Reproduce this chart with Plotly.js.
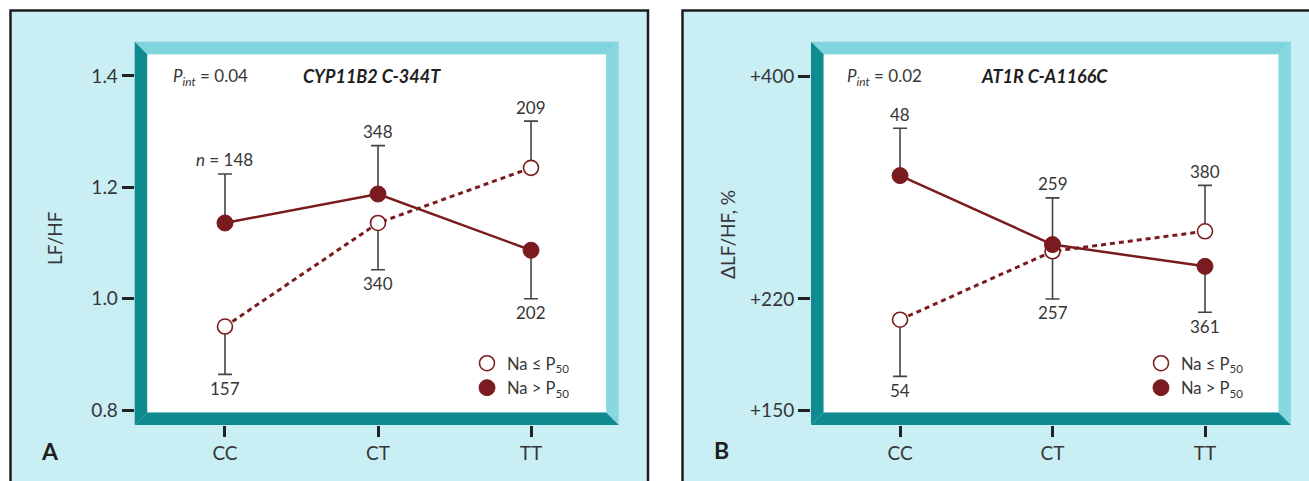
<!DOCTYPE html>
<html><head><meta charset="utf-8">
<script src="https://cdn.plot.ly/plotly-3.0.1.min.js"></script>
<style>html,body{margin:0;padding:0;background:#fff}#chart{width:1309px;height:481px}</style>
</head><body><div id="chart"></div>
<script>
// ---------- data ----------
const categories = ['CC', 'CT', 'TT'];
const seriesNames = ['Na ≤ P<sub>50</sub>', 'Na > P<sub>50</sub>'];

// Panel A: LF/HF, CYP11B2 C-344T
const aLowNa = [0.950, 1.136, 1.235];
const aLowNaBar = [0.864, 1.052, 1.319];
const aLowNaN = ['157', '340', '209'];
const aHighNa = [1.136, 1.188, 1.087];
const aHighNaBar = [1.224, 1.275, 1.000];
const aHighNaN = ['<i>n</i> = 148', '348', '202'];
const aTicks = [0.8, 1.0, 1.2, 1.4];
const aTickText = ['0.8', '1.0', '1.2', '1.4'];

// Panel B: ΔLF/HF %, AT1R C-A1166C (axis drawn on a square-root scale)
const bLowNa = [206, 254, 269];
const bLowNaBar = [170, 220, 305];
const bLowNaN = ['54', '257', '380'];
const bHighNa = [313, 259, 243];
const bHighNaBar = [353, 295, 211];
const bHighNaN = ['48', '259', '361'];
const bTicks = [150, 220, 400];
const bTickText = ['+150', '+220', '+400'];

// ---------- styling ----------
const W = 1309, H = 481;
const px = x => x / W, py = y => 1 - y / H;
const RED = '#7a1c1f', TXT = '#363636', FONT = 'Lato, "Open Sans", sans-serif';
const BG = '#c9eef4', DARK = '#0f8b8f', LIGHT = '#7fd4de', LIGHT2 = '#88d8e1';
const sq = v => Math.sqrt(v);

function errs(vals, bars, tf) {
  const plus = [], minus = [];
  vals.forEach((v, i) => {
    const d = tf(bars[i]) - tf(v);
    plus.push(d > 0 ? d : 0);
    minus.push(d < 0 ? -d : 0);
  });
  return {type: 'data', symmetric: false, array: plus, arrayminus: minus,
          color: '#444444', thickness: 1.6, width: 7};
}

function panelTraces(xa, ya, low, lowBar, high, highBar, tf, legend) {
  return [
    {x: categories, y: low.map(tf), xaxis: xa, yaxis: ya, mode: 'lines', showlegend: false,
     line: {color: RED, width: 3, dash: '5px,4px'}, hoverinfo: 'skip', cliponaxis: false},
    {x: categories, y: high.map(tf), xaxis: xa, yaxis: ya, mode: 'lines', showlegend: false,
     line: {color: RED, width: 2.5}, hoverinfo: 'skip', cliponaxis: false},
    {x: categories, y: low.map(tf), xaxis: xa, yaxis: ya, mode: 'markers', name: seriesNames[0],
     legend: legend, error_y: errs(low, lowBar, tf), cliponaxis: false,
     marker: {symbol: 'circle', size: 15, color: '#ffffff', line: {color: RED, width: 1.6}}},
    {x: categories, y: high.map(tf), xaxis: xa, yaxis: ya, mode: 'markers', name: seriesNames[1],
     legend: legend, error_y: errs(high, highBar, tf), cliponaxis: false,
     marker: {symbol: 'circle', size: 16, color: RED, line: {color: RED, width: 1}}}
  ];
}

const idA = v => v;
const traces = [
  ...panelTraces('x', 'y', aLowNa, aLowNaBar, aHighNa, aHighNaBar, idA, 'legend'),
  ...panelTraces('x2', 'y2', bLowNa, bLowNaBar, bHighNa, bHighNaBar, sq, 'legend2')
];

// frame geometry (pixels)
function frame(L, R, T, B, t) {
  const l = L + t, r = R - t, tt = T + t, b = B - t;
  const P = (pts) => 'M ' + pts.map(p => px(p[0]) + ',' + py(p[1])).join(' L ') + ' Z';
  const base = {type: 'path', xref: 'paper', yref: 'paper', layer: 'below', line: {width: 0}};
  return [
    {type: 'rect', xref: 'paper', yref: 'paper', layer: 'below', x0: px(l), x1: px(r), y0: py(b), y1: py(tt),
     fillcolor: '#ffffff', line: {width: 0}},
    Object.assign({}, base, {path: P([[L, T], [R, T], [r, tt], [l, tt]]), fillcolor: LIGHT}),
    Object.assign({}, base, {path: P([[R, T], [R, B], [r, b], [r, tt]]), fillcolor: LIGHT2}),
    Object.assign({}, base, {path: P([[L, T], [l, tt], [l, b], [L, B]]), fillcolor: DARK}),
    Object.assign({}, base, {path: P([[L, B], [R, B], [r, b], [l, b]]), fillcolor: DARK})
  ];
}

const shapes = [
  {type: 'rect', xref: 'paper', yref: 'paper', layer: 'below', x0: px(10.5), x1: px(648), y0: -0.05, y1: py(10.5),
   fillcolor: BG, line: {color: '#1c1c1c', width: 2.5}},
  {type: 'rect', xref: 'paper', yref: 'paper', layer: 'below', x0: px(682.5), x1: 1.05, y0: -0.05, y1: py(10.5),
   fillcolor: BG, line: {color: '#1c1c1c', width: 2.5}},
  ...frame(134.7, 618.7, 41.7, 425, 12.5),
  ...frame(811, 1291, 41.7, 425, 12.5)
];

// annotations
const ann = [];
function countLabels(xa, ya, vals, bars, labels, tf) {
  vals.forEach((v, i) => {
    const up = bars[i] > v;
    ann.push({x: categories[i], y: tf(bars[i]), xref: xa, yref: ya, text: labels[i], showarrow: false,
      xanchor: 'center', yanchor: 'middle',
      yshift: up ? 14 : -14, font: {family: FONT, size: 17, color: TXT}});
  });
}
countLabels('x', 'y', aLowNa, aLowNaBar, aLowNaN, idA);
countLabels('x', 'y', aHighNa, aHighNaBar, aHighNaN, idA);
countLabels('x2', 'y2', bLowNa, bLowNaBar, bLowNaN, sq);
countLabels('x2', 'y2', bHighNa, bHighNaBar, bHighNaN, sq);

const paperText = (x, y, text, size, opts) => Object.assign({x: px(x), y: py(y), xref: 'paper', yref: 'paper',
  xanchor: 'center', yanchor: 'middle',
  text: text, showarrow: false, font: {family: FONT, size: size, color: TXT}}, opts || {});

const geneFont = {family: FONT, size: 18, color: '#1e1e1e'};
const letterFont = {family: FONT, size: 23, color: '#1e1e1e'};
ann.push(
  paperText(171, 77, '<i>P</i><sub><i>int</i></sub> = 0.04', 17, {xanchor: 'left'}),
  paperText(301, 76, '<b><i>CYP11B2 C-344T</i></b>', 18, {xanchor: 'left', font: geneFont}),
  paperText(845, 77, '<i>P</i><sub><i>int</i></sub> = 0.02', 17, {xanchor: 'left'}),
  paperText(979, 76, '<b><i>AT1R C-A1166C</i></b>', 18, {xanchor: 'left', font: geneFont}),
  paperText(54, 238, 'LF/HF', 19, {textangle: -90}),
  paperText(727, 235, 'ΔLF/HF, %', 19, {textangle: -90}),
  paperText(50, 451, '<b>A</b>', 23, {font: letterFont}),
  paperText(721, 450, '<b>B</b>', 23, {font: letterFont})
);

const tickFont = {family: FONT, size: 19, color: TXT};
const xCommon = {type: 'category', showgrid: false, zeroline: false, showline: false, ticks: 'outside',
  ticklen: 11, tickwidth: 3, tickcolor: '#222', tickfont: tickFont, fixedrange: true};
const yCommon = {showgrid: false, zeroline: false, showline: false, ticks: 'outside',
  ticklen: 12, tickwidth: 3, tickcolor: '#222', tickfont: tickFont, tickmode: 'array', fixedrange: true};

const layout = {
  width: W, height: H, autosize: false,
  margin: {l: 0, r: 0, t: 0, b: 0, pad: 0},
  paper_bgcolor: '#ffffff', plot_bgcolor: 'rgba(0,0,0,0)',
  font: {family: FONT, color: TXT},
  showlegend: true,
  xaxis: Object.assign({}, xCommon, {domain: [px(134.7), px(618.7)], range: [-0.59, 2.573], anchor: 'y'}),
  yaxis: Object.assign({}, yCommon, {domain: [py(425), py(41.7)], range: [0.7731, 1.4616], anchor: 'x',
    tickvals: aTicks, ticktext: aTickText}),
  xaxis2: Object.assign({}, xCommon, {domain: [px(811), px(1291)], range: [-0.584, 2.564], anchor: 'y2'}),
  yaxis2: Object.assign({}, yCommon, {domain: [py(425), py(41.7)], range: [11.912, 20.795], anchor: 'x2',
    tickvals: bTicks.map(sq), ticktext: bTickText}),
  legend: {x: px(467), y: py(346), xanchor: 'left', yanchor: 'top', bgcolor: 'rgba(0,0,0,0)',
    font: {family: FONT, size: 16.5, color: TXT}, itemwidth: 30, tracegroupgap: 0},
  legend2: {x: px(1141), y: py(346), xanchor: 'left', yanchor: 'top', bgcolor: 'rgba(0,0,0,0)',
    font: {family: FONT, size: 16.5, color: TXT}, itemwidth: 30, tracegroupgap: 0},
  shapes: shapes,
  annotations: ann
};

Plotly.newPlot('chart', traces, layout, {displayModeBar: false, staticPlot: true});
</script>
</body></html>
